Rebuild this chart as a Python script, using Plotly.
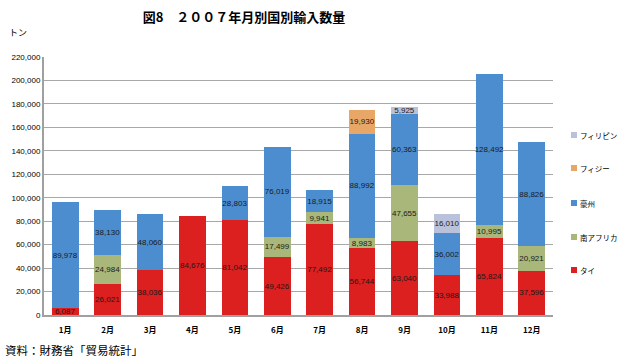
import plotly.graph_objects as go

months = ["1月", "2月", "3月", "4月", "5月", "6月", "7月", "8月", "9月", "10月", "11月", "12月"]
thai = [6087, 26021, 38036, 84676, 81042, 49426, 77492, 56744, 63040, 33988, 65824, 37596]
south_africa = [0, 24984, 0, 0, 0, 17499, 9941, 8983, 47655, 0, 10995, 20921]
australia = [89978, 38130, 48060, 0, 28803, 76019, 18915, 88992, 60363, 36002, 128492, 88826]
fiji = [0, 0, 0, 0, 0, 0, 0, 19930, 0, 0, 0, 0]
philippines = [0, 0, 0, 0, 0, 0, 0, 0, 5925, 16010, 0, 0]

series = [
    ("タイ", thai, "#DC1F1F"),
    ("南アフリカ", south_africa, "#A9B77A"),
    ("豪州", australia, "#4C8DD0"),
    ("フィジー", fiji, "#E9A767"),
    ("フィリピン", philippines, "#B9C2DA"),
]

font = "Noto Sans CJK JP"
W, H = 620, 361
L, R, T, B = 44, 67, 57, 46
PW, PH = W - L - R, H - T - B

def px(x):
    return (x - L) / PW

def py(y):
    return (H - B - y) / PH

fig = go.Figure()
for i, (name, vals, col) in enumerate(series):
    fig.add_trace(go.Bar(
        x=months, y=vals, name=name,
        marker=dict(color=col, line=dict(width=0)),
        text=[f"{v:,}" if v else "" for v in vals],
        textposition="inside", insidetextanchor="middle",
        textangle=0, constraintext="none",
        textfont=dict(color="#1a1a1a", size=8, family="Liberation Sans"),
        width=0.63,
        showlegend=False,
    ))

fig.update_layout(
    barmode="stack",
    width=W, height=H,
    margin=dict(l=L, r=R, t=T, b=B, autoexpand=False),
    paper_bgcolor="white", plot_bgcolor="white",
    uniformtext=dict(minsize=8, mode="show"),
    title=dict(text="<b>図8　２００７年月別国別輸入数量</b>", x=244 / W, xanchor="center",
               y=1 - 17 / H, yanchor="middle", font=dict(family=font, size=13, color="black")),
    font=dict(family=font, color="black"),
    yaxis=dict(range=[0, 220000], dtick=20000, tickformat=",",
               showgrid=True, gridcolor="#A8A8A8", gridwidth=1,
               showline=True, linecolor="#A0A0A0", linewidth=2,
               ticks="", tickfont=dict(family="Liberation Sans", size=8, color="black"),
               zeroline=False),
    xaxis=dict(showline=True, linecolor="#A0A0A0", linewidth=2, ticks="",
               ticklabelstandoff=6,
               tickfont=dict(family=font, size=8, color="black", weight="bold")),
)

fig.add_annotation(text="トン", xref="paper", yref="paper", x=px(7), y=py(32),
                   xanchor="left", yanchor="middle", showarrow=False,
                   font=dict(family=font, size=9, color="black"))
fig.add_annotation(text="資料：財務省「貿易統計」", xref="paper", yref="paper", x=px(3), y=py(350),
                   xanchor="left", yanchor="middle", showarrow=False,
                   font=dict(family=font, size=11.5, color="black"))

# Legend (top of stack first)
legend_y = [135, 168, 203, 237, 270]
for (name, vals, col), ly in zip(reversed(series), legend_y):
    fig.add_shape(type="rect", xref="paper", yref="paper",
                  x0=px(571), x1=px(577), y0=py(ly + 3), y1=py(ly - 3),
                  fillcolor=col, line=dict(width=0))
    fig.add_annotation(text=name, xref="paper", yref="paper", x=px(578), y=py(ly),
                       xanchor="left", yanchor="middle", showarrow=False,
                       font=dict(family=font, size=7.5, color="black"))

fig.write_html("out.html", config={"displayModeBar": False},
               post_script="document.body.style.margin='0';")
